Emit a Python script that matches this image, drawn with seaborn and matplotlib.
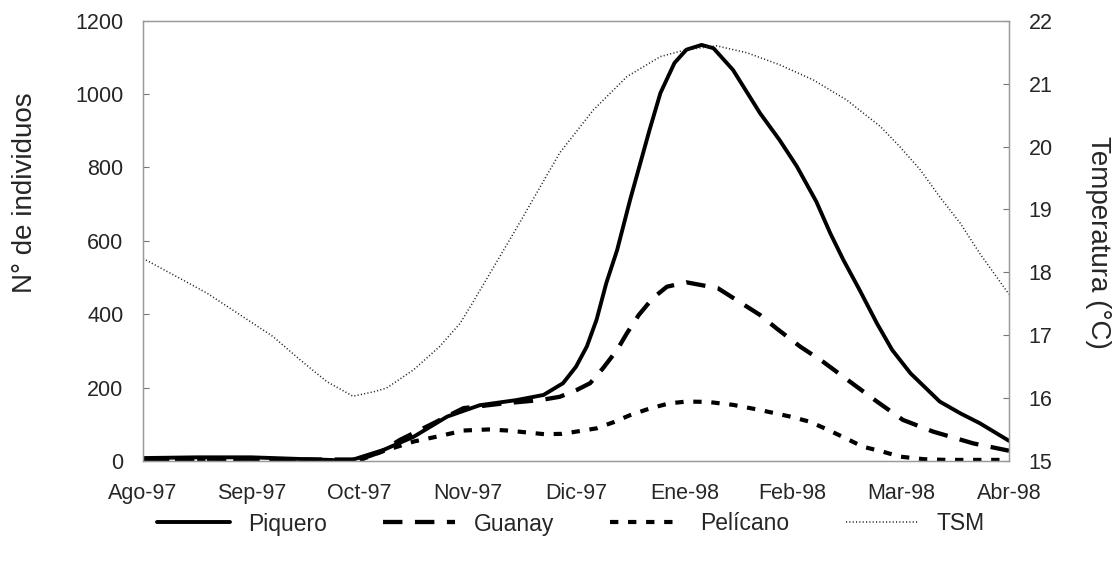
import matplotlib
matplotlib.use("Agg")
import matplotlib.pyplot as plt
import seaborn as sns

sns.set_style("white")
plt.rcParams['font.family'] = ['Liberation Sans', 'DejaVu Sans']
plt.rcParams['lines.scale_dashes'] = False

months = ["Ago-97", "Sep-97", "Oct-97", "Nov-97", "Dic-97", "Ene-98", "Feb-98", "Mar-98", "Abr-98"]

piq_x = [0, 0.5, 1, 1.5, 1.91, 2.22, 2.5, 2.81, 3.11, 3.45, 3.7, 3.88, 4.0, 4.1, 4.19, 4.28, 4.38,
         4.5, 4.68, 4.78, 4.91, 5.02, 5.16, 5.27, 5.45, 5.7, 5.88, 6.04, 6.22, 6.35, 6.47, 6.62,
         6.78, 6.92, 7.09, 7.36, 7.55, 7.73, 8.0]
piq_y = [8, 10, 10, 5, 1, 30, 66, 121, 152, 166, 180, 212, 257, 312, 385, 485, 575,
         712, 903, 1003, 1085, 1121, 1134, 1125, 1066, 948, 875, 803, 707, 620, 548, 466,
         375, 303, 239, 162, 130, 103, 55]

gua_x = [0, 0.5, 1, 1.5, 2.0, 2.2, 2.37, 2.65, 2.96, 3.33, 3.67, 3.85, 4.01, 4.13, 4.25, 4.38,
         4.47, 4.58, 4.71, 4.84, 5.02, 5.31, 5.7, 5.85, 6.07, 6.28, 6.55, 6.78, 7.02, 7.3, 7.67, 8.0]
gua_y = [5, 6, 6, 4, 4, 25, 57, 98, 144, 157, 166, 175, 194, 212, 253, 303,
         348, 398, 444, 475, 487, 471, 398, 362, 312, 271, 212, 162, 112, 80, 48, 28]

pel_x = [0, 0.5, 1, 1.5, 2.0, 2.2, 2.5, 2.74, 2.96, 3.19, 3.37, 3.54, 3.71, 3.87, 4.0, 4.19,
         4.34, 4.5, 4.68, 4.86, 5.02, 5.22, 5.45, 5.7, 5.98, 6.16, 6.32, 6.47, 6.65, 6.84, 6.99,
         7.21, 7.42, 7.7, 8.0]
pel_y = [3, 3, 3, 3, 2, 25, 53, 68, 83, 86, 83, 78, 73, 74, 80, 89,
         105, 125, 143, 157, 162, 161, 153, 139, 121, 107, 86, 65, 39, 25, 12,
         5, 3, 3, 3]

tsm_x = [0, 0.28, 0.59, 0.9, 1.2, 1.45, 1.7, 1.94, 2.13, 2.25, 2.5, 2.74, 2.93, 3.05, 3.45,
         3.85, 4.16, 4.47, 4.78, 5.02, 5.3, 5.58, 5.88, 6.19, 6.5, 6.81, 6.99, 7.18, 7.36, 7.55,
         7.73, 8.0]
tsm_y = [18.22, 17.96, 17.67, 17.32, 16.98, 16.61, 16.26, 16.03, 16.10, 16.16, 16.45, 16.82,
         17.19, 17.53, 18.7, 19.90, 20.58, 21.11, 21.43, 21.54, 21.60, 21.49, 21.30, 21.06,
         20.74, 20.32, 20.0, 19.63, 19.2, 18.78, 18.3, 17.65]

W, H = 1119, 567
L, R, T, B = 143, 1009, 20.7, 461
fig = plt.figure(figsize=(W / 100, H / 100), dpi=100)
ax = fig.add_axes([L / W, 1 - B / H, (R - L) / W, (B - T) / H])
ax2 = ax.twinx()

sns.lineplot(x=piq_x, y=piq_y, ax=ax, color="black", lw=2.8, label="Piquero", legend=False)
sns.lineplot(x=gua_x, y=gua_y, ax=ax, color="black", lw=3.1, label="Guanay", legend=False)
ax.lines[-1].set_dashes([14, 9])
sns.lineplot(x=pel_x, y=pel_y, ax=ax, color="black", lw=3.0, label="Pelícano", legend=False)
ax.lines[-1].set_dashes([6, 7])
sns.lineplot(x=tsm_x, y=tsm_y, ax=ax2, color="#222222", lw=1.1, label="TSM", legend=False)
ax2.lines[-1].set_dashes([0.8, 1.6])

ax.set_xlim(0, 8)
ax.set_ylim(0, 1200)
ax2.set_ylim(15, 22)
ax.set_xticks(range(9))
ax.set_xticklabels(months)
ax.set_yticks(range(0, 1201, 200))
ax2.set_yticks(range(15, 23))

for a in (ax, ax2):
    for s in a.spines.values():
        s.set_color("#9a9a9a")
        s.set_linewidth(0.9)
ax.tick_params(axis="y", labelsize=15.5, length=4, width=0.8, color="#777777", direction="in", pad=14)
ax.tick_params(axis="x", labelsize=15.5, length=4, width=0.8, color="#777777", direction="in", pad=16)
ax2.tick_params(axis="y", labelsize=15.5, length=4, width=0.8, color="#777777", direction="in", pad=14)

ax.set_ylabel("N° de individuos", fontsize=20, va="center")
ax.yaxis.set_label_coords((25 - L) / (R - L), (B - 193) / (B - T))
ax2.set_ylabel("Temperatura (°C)", fontsize=20, rotation=270, va="center")
ax2.yaxis.set_label_coords((1098 - L) / (R - L), (B - 242) / (B - T))

handles = ax.lines[:3] + ax2.lines[:1]
labels = ["Piquero", "Guanay", "Pelícano", "TSM"]
fig.legend(handles, labels, loc="center", bbox_to_anchor=(571 / W, 1 - 524 / H), ncol=4,
           frameon=False, fontsize=16.5, handlelength=3.15, handletextpad=0.8, columnspacing=2.45)

fig.savefig("out.png", dpi=100)
